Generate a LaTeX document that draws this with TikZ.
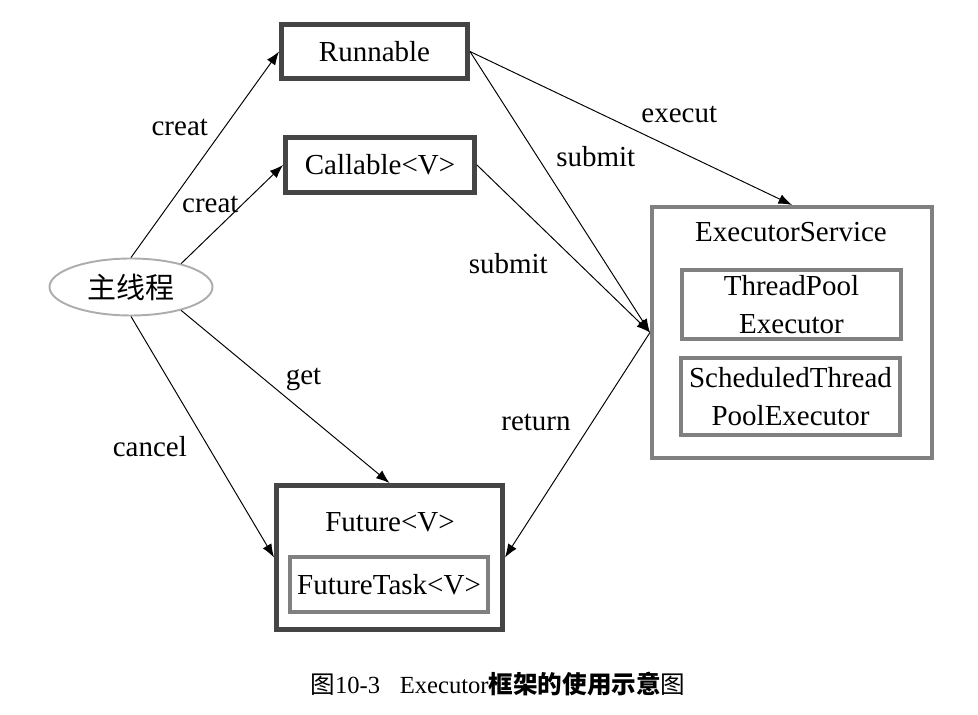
\documentclass[tikz,border=0pt]{standalone}
\usepackage{fontspec}
\setmainfont{Liberation Serif}
\newfontfamily\cjk{Noto Sans CJK SC}
\usetikzlibrary{arrows.meta,shapes.geometric}
\definecolor{scuro}{HTML}{454545}
\definecolor{medio}{HTML}{808080}
\definecolor{chiaro}{HTML}{ADADAD}
\tikzset{
>={Latex[length=0.27cm,width=0.2cm]},
box/.style={draw=scuro,line width=2.8pt,inner sep=0pt,align=center},
outer box/.style={draw=medio,line width=2.3pt,inner sep=0pt},
inner box/.style={draw=medio,line width=2.2pt,inner sep=0pt,align=center},
main node/.style={ellipse,draw=chiaro,line width=1.1pt,inner sep=0pt},
freccia/.style={->,line width=0.55pt},
testo/.style={font=\fontsize{16.5}{22}\selectfont}}

\begin{document}
\begin{tikzpicture}[testo]
\useasboundingbox (0,0) rectangle (19.56,-14.3);

\node[main node,minimum width=3.26cm,minimum height=1.14cm] (main) at (2.62,-5.74) {\cjk 主线程};
\node[box,minimum width=3.72cm,minimum height=1.08cm] (run) at (7.49,-1.03) {Runnable};
\node[box,minimum width=3.78cm,minimum height=1.1cm] (call) at (7.6,-3.3) {Callable<V>};

\node[outer box,minimum width=5.6cm,minimum height=5.02cm] (exec) at (15.84,-6.65) {};
\node (execname) at (15.82,-4.64) {ExecutorService};
\node[inner box,minimum width=4.38cm,minimum height=1.38cm] (pool) at (15.83,-6.09) {ThreadPool\\Executor};
\node[inner box,minimum width=4.38cm,minimum height=1.54cm] (sched) at (15.81,-7.93) {ScheduledThread\\PoolExecutor};

\node[box,minimum width=4.52cm,minimum height=2.88cm] (fut) at (7.79,-11.15) {};
\node (futname) at (7.8,-10.44) {Future<V>};
\node[inner box,minimum width=3.96cm,minimum height=1.1cm] (task) at (7.78,-11.69) {FutureTask<V>};

\path[freccia] (main.north) edge node[pos=0.63,left,xshift=-0.2cm] {creat} (run.west);
\path[freccia] (main.25) edge node[pos=0.6,left,xshift=0.05cm] {creat} (call.west);
\path[freccia] (main.south) edge node[pos=0.54,left,xshift=-0.3cm] {cancel} (fut.west);
\path[freccia] (main.-25) edge node[pos=0.4,right,xshift=0.3cm] {get} (fut.north);
\path[freccia] (run.east) edge node[pos=0.65,above,yshift=0.45cm] {execut} (exec.north);
\path[freccia] (run.east) edge node[pos=0.375,right,xshift=0.25cm] {submit} (exec.west);
\path[freccia] (call.east) edge node[pos=0.59,left,xshift=-0.5cm] {submit} (exec.west);
\path[freccia] (exec.west) edge node[pos=0.4,left,xshift=-0.3cm] {return} (fut.east);

\node[font=\fontsize{14}{18}\selectfont] (caption) at (9.96,-13.68) {{\cjk 图}10-3\hspace{0.8em}Executor{\cjk\bfseries 框架的使用示意}{\cjk 图}};

\end{tikzpicture}
\end{document}
